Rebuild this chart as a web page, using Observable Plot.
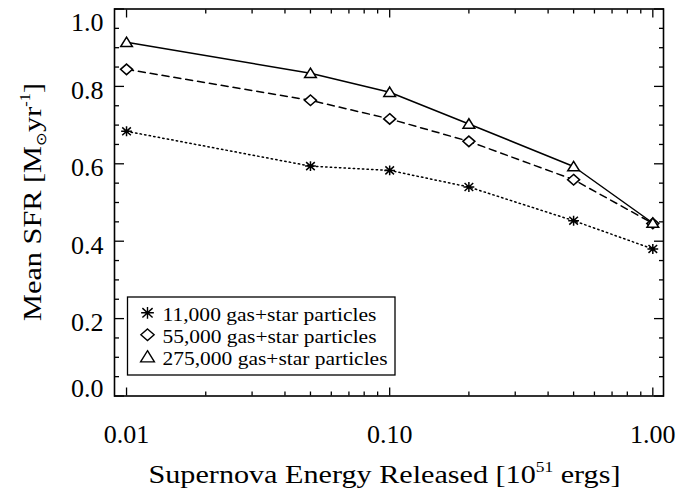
<!DOCTYPE html>
<html><head><meta charset="utf-8">
<script src="https://cdn.jsdelivr.net/npm/d3@7"></script>
<script src="https://cdn.jsdelivr.net/npm/@observablehq/plot@0.6"></script>
<style>body{margin:0;background:#fff} svg{display:block}</style>
</head><body><div id="chart"></div>
<script>
// ---- data ----
const energy = [0.01, 0.05, 0.1, 0.2, 0.5, 1.0];
const sfr11k = [0.684, 0.594, 0.583, 0.540, 0.453, 0.380];
const sfr55k = [0.844, 0.764, 0.716, 0.658, 0.559, 0.446];
const sfr275k = [0.914, 0.834, 0.785, 0.703, 0.593, 0.447];
const seriesNames = ["11,000 gas+star particles", "55,000 gas+star particles", "275,000 gas+star particles"];
const xMajorTicks = [0.01, 0.1, 1];
const xTickLabels = ["0.01", "0.10", "1.00"];
const xMinorTicks = [0.02, 0.03, 0.04, 0.05, 0.06, 0.07, 0.08, 0.09, 0.2, 0.3, 0.4, 0.5, 0.6, 0.7, 0.8, 0.9];
const yMajorTicks = [0, 0.2, 0.4, 0.6, 0.8, 1.0];
const yTickLabels = ["0.0", "0.2", "0.4", "0.6", "0.8", "1.0"];
const yMinorTicks = [0.05, 0.1, 0.15, 0.25, 0.3, 0.35, 0.45, 0.5, 0.55, 0.65, 0.7, 0.75, 0.85, 0.9, 0.95];

// ---- IDL-like marker shapes (slightly wider than tall, as in the reference) ----
const rOf = size => Math.sqrt(size / Math.PI);
const asteriskSym = {draw(c, size) {
  const r = rOf(size), w = 1.2 * r, h = 1.1 * r;
  c.moveTo(-w, 0); c.lineTo(w, 0);
  c.moveTo(0, -h); c.lineTo(0, h);
  c.moveTo(-w * 0.8, -h * 0.8); c.lineTo(w * 0.8, h * 0.8);
  c.moveTo(-w * 0.8, h * 0.8); c.lineTo(w * 0.8, -h * 0.8);
}};
const diamondSym = {draw(c, size) {
  const r = rOf(size), w = 1.25 * r, h = 1.1 * r;
  c.moveTo(0, -h); c.lineTo(w, 0); c.lineTo(0, h); c.lineTo(-w, 0); c.closePath();
}};
const triangleSym = {draw(c, size) {
  const r = rOf(size), w = 1.3 * r;
  c.moveTo(0, -1.15 * r); c.lineTo(w, 0.95 * r); c.lineTo(-w, 0.95 * r); c.closePath();
}};

// ---- styles per series ----
const seriesValues = [sfr11k, sfr55k, sfr275k];
const symbols = [asteriskSym, diamondSym, triangleSym];
const dashes = ["1.4,3.2", "7,5", null];
const rows = seriesValues.flatMap((vals, s) => energy.map((e, i) => ({e, v: vals[i], s})));

const FONT = "Liberation Serif";
const W = 680, H = 492, ML = 114, MR = 17, MT = 8.5, MB = 96.5;

const seriesMarks = seriesValues.flatMap((vals, s) => {
  const d = rows.filter(r => r.s === s);
  return [
    Plot.line(d, {x: "e", y: "v", stroke: "black", strokeWidth: 1.5, strokeDasharray: dashes[s]}),
    Plot.dot(d, {x: "e", y: "v", symbol: symbols[s], r: s === 1 ? 4.8 : 4.5, stroke: "black", strokeWidth: 1.5, fill: s === 0 ? "none" : "white"})
  ];
});

const yFmt = d => yTickLabels[yMajorTicks.indexOf(d)];
const xFmt = d => xTickLabels[xMajorTicks.indexOf(d)];
const none = () => "";
const tickText = {fontFamily: FONT, fontSize: 26, label: null};

const plot = Plot.plot({
  width: W, height: H,
  marginLeft: ML, marginRight: MR, marginTop: MT, marginBottom: MB,
  x: {type: "log", domain: [0.009, 1.098]},
  y: {domain: [0, 1]},
  style: {fontFamily: FONT, fontSize: "26px", color: "black", background: "white"},
  marks: [
    ...seriesMarks,
    // bottom axis
    Plot.axisX({anchor: "bottom", ticks: xMajorTicks, tickSize: -8, tickPadding: 37, tickFormat: xFmt, ...tickText, strokeWidth: 1.3}),
    Plot.axisX({anchor: "bottom", ticks: xMinorTicks, tickSize: -4, tickFormat: none, label: null, strokeWidth: 1.3}),
    // top axis
    Plot.axisX({anchor: "top", ticks: xMajorTicks, tickSize: -8, tickFormat: none, label: null, strokeWidth: 1.3}),
    Plot.axisX({anchor: "top", ticks: xMinorTicks, tickSize: -4, tickFormat: none, label: null, strokeWidth: 1.3}),
    // left axis: ticks, then labels (end labels sit inward as in the reference)
    Plot.axisY({anchor: "left", ticks: yMajorTicks, tickSize: -10, tickFormat: none, label: null, strokeWidth: 1.3}),
    Plot.axisY({anchor: "left", ticks: [0.2, 0.4, 0.6, 0.8], tickSize: 0, tickPadding: 11, tickFormat: yFmt, dy: 4, ...tickText}),
    Plot.axisY({anchor: "left", ticks: [0], tickSize: 0, tickPadding: 11, tickFormat: yFmt, dy: -7, ...tickText}),
    Plot.axisY({anchor: "left", ticks: [1], tickSize: 0, tickPadding: 11, tickFormat: yFmt, dy: 14, ...tickText}),
    Plot.axisY({anchor: "left", ticks: yMinorTicks, tickSize: -5, tickFormat: none, label: null, strokeWidth: 1.3}),
    // right axis
    Plot.axisY({anchor: "right", ticks: yMajorTicks, tickSize: -10, tickFormat: none, label: null, strokeWidth: 1.3}),
    Plot.axisY({anchor: "right", ticks: yMinorTicks, tickSize: -5, tickFormat: none, label: null, strokeWidth: 1.3}),
    Plot.frame({stroke: "black", strokeWidth: 1.6})
  ]
});

const svg = d3.select(plot);

// x-axis title (glyphs stretched to the reference width)
const xt = svg.append("text")
  .attr("x", (ML + W - MR) / 2 - 4).attr("y", 483)
  .attr("text-anchor", "middle")
  .attr("textLength", 472).attr("lengthAdjust", "spacingAndGlyphs")
  .style("font-family", FONT).style("font-size", "26px").attr("fill", "black");
xt.append("tspan").text("Supernova Energy Released [10");
xt.append("tspan").attr("dy", "-11").style("font-size", "15px").text("51");
xt.append("tspan").attr("dy", "11").text(" ergs]");

// y-axis title
const yt = svg.append("text")
  .attr("transform", `translate(41,${(MT + H - MB) / 2}) rotate(-90)`)
  .attr("text-anchor", "middle")
  .attr("textLength", 238).attr("lengthAdjust", "spacingAndGlyphs")
  .style("font-family", FONT).style("font-size", "26px").attr("fill", "black");
yt.append("tspan").text("Mean SFR [M");
yt.append("tspan").attr("dy", "5").style("font-size", "14px").text("\u2299");
yt.append("tspan").attr("dy", "-5").text("yr");
yt.append("tspan").attr("dy", "-11").style("font-size", "14px").text("-1");
yt.append("tspan").attr("dy", "11").text("]");

// legend
const lg = svg.append("g");
lg.append("rect").attr("x", 127.5).attr("y", 297).attr("width", 267.5).attr("height", 78)
  .attr("fill", "white").attr("stroke", "black").attr("stroke-width", 1.3);
const legendWidths = [214, 214, 225];
seriesNames.forEach((name, i) => {
  const cy = 312.8 + i * 22;
  const r = 5.3;
  lg.append("path").attr("transform", `translate(147.5,${cy})`)
    .attr("d", d3.symbol(symbols[i], Math.PI * r * r)())
    .attr("fill", "none").attr("stroke", "black").attr("stroke-width", 1.4);
  lg.append("text").attr("x", 162.5).attr("y", cy + 8).attr("text-anchor", "start")
    .attr("textLength", legendWidths[i]).attr("lengthAdjust", "spacingAndGlyphs")
    .style("font-family", FONT).style("font-size", "19px")
    .attr("fill", "black").text(name);
});

document.getElementById("chart").appendChild(plot);
</script>
</body></html>
